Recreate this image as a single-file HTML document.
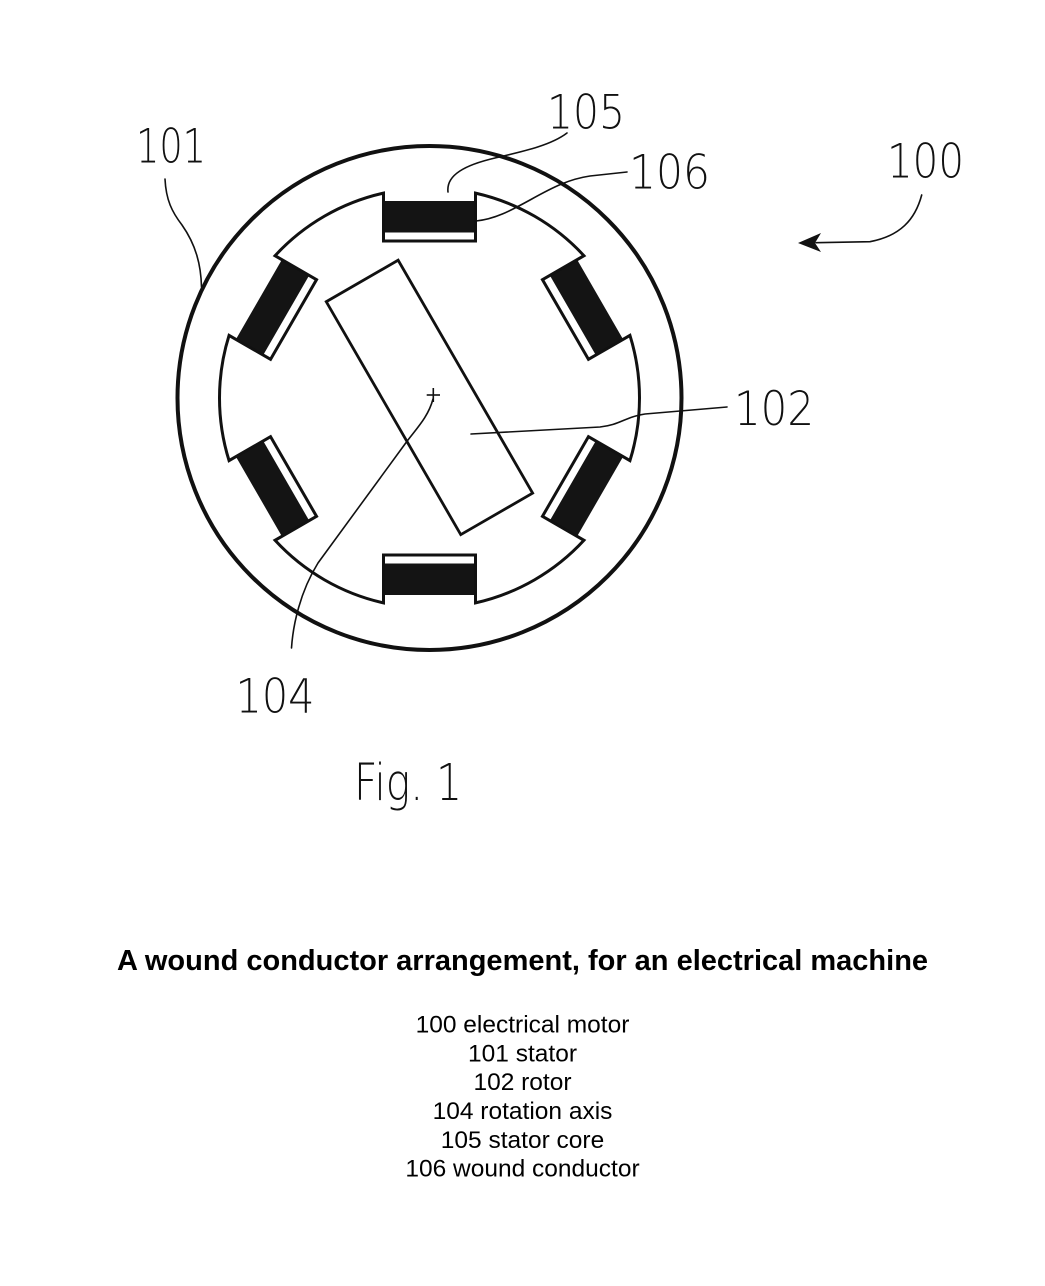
<!DOCTYPE html>
<html>
<head>
<meta charset="utf-8">
<style>
  html, body { margin: 0; padding: 0; background: #fff; }
  body { width: 1045px; height: 1286px; overflow: hidden; }
  svg { display: block; }
  .lbl { font-family: "DejaVu Sans", "Liberation Sans", sans-serif; font-weight: 200; fill: #111; }
</style>
</head>
<body>
<svg width="1045" height="1286" viewBox="0 0 1045 1286" xmlns="http://www.w3.org/2000/svg">
  <rect x="0" y="0" width="1045" height="1286" fill="#fff"/>

  <!-- Outer stator circle -->
  <circle cx="429.5" cy="398" r="252" fill="none" stroke="#111" stroke-width="4"/>

  <g transform="translate(429.5,398)">
    <!-- Coils (black) -->
    <g fill="#141414">
      <rect x="-46" y="-197" width="92" height="31.5" transform="rotate(0)"/>
      <rect x="-46" y="-197" width="92" height="31.5" transform="rotate(60)"/>
      <rect x="-46" y="-197" width="92" height="31.5" transform="rotate(120)"/>
      <rect x="-46" y="-197" width="92" height="31.5" transform="rotate(180)"/>
      <rect x="-46" y="-197" width="92" height="31.5" transform="rotate(240)"/>
      <rect x="-46" y="-197" width="92" height="31.5" transform="rotate(300)"/>
    </g>

    <!-- Stator bore with slots -->
    <path fill="none" stroke="#111" stroke-width="3" stroke-linejoin="miter" stroke-miterlimit="10"
      d="M -46 -204.9 L -46 -157 L 46 -157 L 46 -204.9
         A 210 210 0 0 1 154.45 -142.29
         L 112.96 -118.34 L 158.96 -38.66 L 200.45 -62.61
         A 210 210 0 0 1 200.45 62.61
         L 158.96 38.66 L 112.96 118.34 L 154.45 142.29
         A 210 210 0 0 1 46 204.9
         L 46 157 L -46 157 L -46 204.9
         A 210 210 0 0 1 -154.45 142.29
         L -112.96 118.34 L -158.96 38.66 L -200.45 62.61
         A 210 210 0 0 1 -200.45 -62.61
         L -158.96 -38.66 L -112.96 -118.34 L -154.45 -142.29
         A 210 210 0 0 1 -46 -204.9 Z"/>
  </g>

  <!-- Rotor -->
  <rect x="-41.5" y="-134.6" width="83" height="269" fill="none" stroke="#111" stroke-width="2.8"
        transform="translate(429.5,397.5) rotate(-30)"/>

  <!-- Rotation axis plus -->
  <line x1="426.7" y1="395" x2="440" y2="395" stroke="#111" stroke-width="1.6"/>
  <line x1="433.3" y1="388" x2="433.3" y2="402" stroke="#111" stroke-width="1.6"/>

  <!-- Leader lines -->
  <g fill="none" stroke="#111" stroke-width="1.6" stroke-linecap="round">
    <!-- 104 -->
    <path d="M433,399 C428,418 415,430 405,444 L318,563 C300,592 293,625 291.5,648"/>
    <!-- 102 -->
    <path d="M471,434 L600,427 C620,425 625,417 645,414 L727,407"/>
    <!-- 101 -->
    <path d="M165,179 C166,200 172,212 182,225 C196,245 201,265 201.5,287"/>
    <!-- 105 -->
    <path d="M567,133 C550,146 520,152 495,158 C465,165 446,175 448,192"/>
    <!-- 106 -->
    <path d="M627,172 L590,176 C570,179 555,186 530,200 C510,211 495,219 476,221"/>
    <!-- 100 arrow -->
    <path d="M921.7,195 C915,220 900,236 870,241.7 L816,242.7"/>
  </g>
  <polygon points="798,243 821,233 815,243 821,252" fill="#111"/>

  <!-- Reference labels -->
  <text class="lbl" x="136" y="162.7" font-size="47" textLength="70" lengthAdjust="spacingAndGlyphs">101</text>
  <text class="lbl" x="547" y="128.5" font-size="47" textLength="78" lengthAdjust="spacingAndGlyphs">105</text>
  <text class="lbl" x="629" y="188.3" font-size="47" textLength="81" lengthAdjust="spacingAndGlyphs">106</text>
  <text class="lbl" x="887" y="177.3" font-size="47" textLength="77" lengthAdjust="spacingAndGlyphs">100</text>
  <text class="lbl" x="734" y="425" font-size="47" textLength="80" lengthAdjust="spacingAndGlyphs">102</text>
  <text class="lbl" x="235.5" y="712.7" font-size="47" textLength="79" lengthAdjust="spacingAndGlyphs">104</text>
  <text class="lbl" x="354" y="800" font-size="51" textLength="108" lengthAdjust="spacingAndGlyphs">Fig. 1</text>

  <!-- Title and legend -->
  <text x="522.5" y="970" text-anchor="middle" font-family="Liberation Sans, Arial, sans-serif" font-weight="bold" font-size="29" fill="#000">A wound conductor arrangement, for an electrical machine</text>
  <g font-family="Liberation Sans, Arial, sans-serif" font-size="24.5" fill="#000" text-anchor="middle">
    <text x="522.5" y="1032.5">100 electrical motor</text>
    <text x="522.5" y="1061.4">101 stator</text>
    <text x="522.5" y="1090.2">102 rotor</text>
    <text x="522.5" y="1119">104 rotation axis</text>
    <text x="522.5" y="1147.9">105 stator core</text>
    <text x="522.5" y="1176.7">106 wound conductor</text>
  </g>
</svg>
</body>
</html>
